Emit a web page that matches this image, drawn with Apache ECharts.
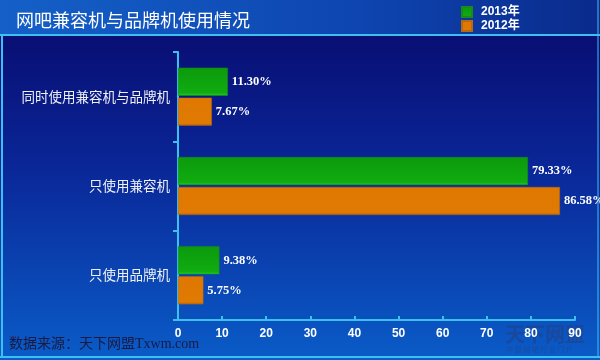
<!DOCTYPE html>
<html><head><meta charset="utf-8">
<script src="https://cdn.jsdelivr.net/npm/echarts@6/dist/echarts.min.js"></script>
<style>html,body{margin:0;padding:0;background:#0a2a9a}#c{width:600px;height:360px}</style>
</head><body><div id="c"></div>
<script>
const categories = ['只使用品牌机', '只使用兼容机', '同时使用兼容机与品牌机'];
const values2013 = [9.38, 79.33, 11.30];
const values2012 = [5.75, 86.58, 7.67];
const seriesNames = ['2013年', '2012年'];
const xTicks = { min: 0, max: 90, interval: 10 };

const chart = echarts.init(document.getElementById('c'));
const lbl = {
  show: true, position: 'right', distance: 4, color: '#ffffff',
  fontFamily: '"Liberation Serif","Times New Roman",serif', fontWeight: 'bold', fontSize: 12.5,
  formatter: p => p.value.toFixed(2) + '%'
};
chart.setOption({
  animation: false,
  graphic: [
    { type: 'rect', z: -10, shape: { x: 0, y: 0, width: 600, height: 360 },
      style: { fill: new echarts.graphic.LinearGradient(0, 0, 0, 1, [
        { offset: 0, color: '#08086a' }, { offset: 0.45, color: '#0a2596' }, { offset: 1, color: '#0a5cc8' }]) } },
    { type: 'rect', z: -9, shape: { x: 0, y: 0, width: 600, height: 35 },
      style: { fill: new echarts.graphic.LinearGradient(0, 0, 1, 0, [
        { offset: 0, color: '#1460c8' }, { offset: 0.6, color: '#0e45b0' }, { offset: 1, color: '#0a2a8c' }]) } },
    { type: 'line', z: -8, shape: { x1: 0, y1: 35, x2: 600, y2: 35 }, style: { stroke: '#3cc0f0', lineWidth: 2 } },
    { type: 'line', z: -8, shape: { x1: 0, y1: 357, x2: 600, y2: 357 }, style: { stroke: '#3cc0f0', lineWidth: 2 } },
    { type: 'line', z: -8, shape: { x1: 2, y1: 35, x2: 2, y2: 358 }, style: { stroke: '#3cc0f0', lineWidth: 2 } },
    { type: 'line', z: -8, shape: { x1: 598, y1: 0, x2: 598, y2: 358 }, style: { stroke: '#3cc0f0', lineWidth: 1 } },
    { type: 'text', left: 9, top: 337, style: { text: '数据来源：天下网盟Txwm.com', fill: '#1a1a40',
      font: '14px "Liberation Serif","Noto Sans CJK SC",serif' } },
    { type: 'text', left: 505, top: 324, z: -5, style: { text: '天下网盟', fill: 'rgba(40,60,120,0.5)',
      font: 'bold 20px "Noto Sans CJK SC",sans-serif' } },
    { type: 'text', left: 506, top: 346, z: -5, style: { text: '中 国 网 吧 行 业 门 户', fill: 'rgba(40,60,120,0.5)',
      font: '7px "Noto Sans CJK SC",sans-serif' } }
  ],
  title: { text: '网吧兼容机与品牌机使用情况', left: 11, top: 6,
    textStyle: { color: '#ffffff', fontSize: 18, fontWeight: 'normal', fontFamily: '"Noto Sans CJK SC",sans-serif' } },
  legend: { orient: 'vertical', left: 456, top: 1, itemWidth: 10, itemHeight: 10, itemGap: 2, icon: 'rect',
    data: seriesNames,
    textStyle: { color: '#ffffff', fontWeight: 'bold', fontSize: 12, padding: [0, 0, 0, 4],
      fontFamily: '"Liberation Sans",Arial,"Noto Sans CJK SC",sans-serif' } },
  grid: { left: 178, right: 25, top: 52, bottom: 40, containLabel: false },
  xAxis: { type: 'value', min: xTicks.min, max: xTicks.max, interval: xTicks.interval,
    axisLine: { show: true, lineStyle: { color: '#3cc0f0', width: 2 } },
    axisTick: { show: true, inside: true, length: 4, lineStyle: { color: '#3cc0f0', width: 2 } },
    splitLine: { show: false },
    axisLabel: { color: '#ffffff', fontWeight: 'bold', fontSize: 12, margin: 8, fontFamily: '"Liberation Sans",Arial,sans-serif' } },
  yAxis: { type: 'category', data: categories,
    axisLine: { show: true, lineStyle: { color: '#3cc0f0', width: 2 } },
    axisTick: { show: true, length: 5, lineStyle: { color: '#3cc0f0', width: 2 } },
    axisLabel: { color: '#eef0f8', fontSize: 13.5, margin: 8, fontFamily: '"Noto Sans CJK SC",sans-serif' } },
  series: [
    { name: seriesNames[0], type: 'bar', data: values2013, barWidth: 28, barGap: '7%',
      itemStyle: { color: new echarts.graphic.LinearGradient(0, 0, 0, 1, [
        { offset: 0, color: '#0c9a0c' }, { offset: 0.9, color: '#10ac10' }, { offset: 1, color: '#20d020' }]),
        borderColor: '#1a8a1a', borderWidth: 0.5 },
      label: lbl },
    { name: seriesNames[1], type: 'bar', data: values2012, barWidth: 28,
      itemStyle: { color: new echarts.graphic.LinearGradient(0, 0, 0, 1, [
        { offset: 0, color: '#e07800' }, { offset: 0.92, color: '#e07a02' }, { offset: 1, color: '#b06010' }]),
        borderColor: '#b86a10', borderWidth: 0.5 },
      label: lbl }
  ]
});
</script></body></html>
